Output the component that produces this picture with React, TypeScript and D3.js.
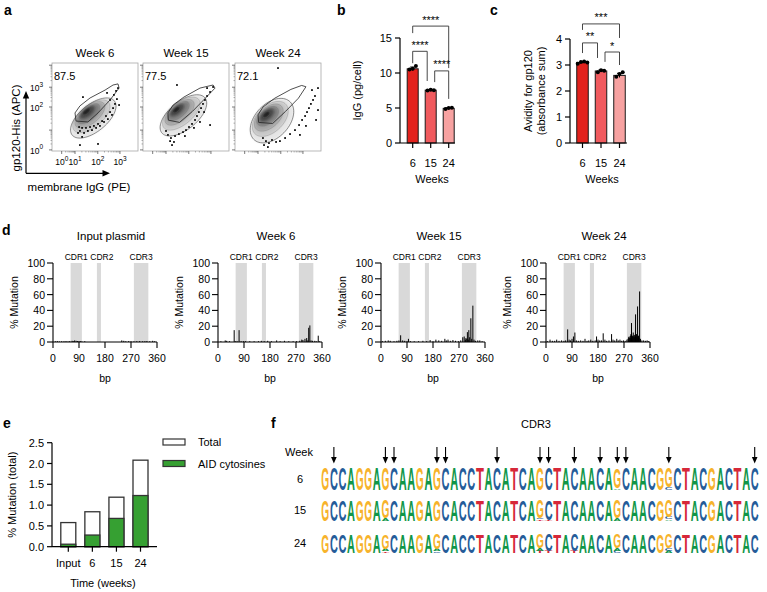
import React from "react";
import * as d3 from "d3";

const FONT = "'Liberation Sans', Arial, Helvetica, sans-serif";

// ---------------- Panel a data ----------------
const flowTitles = ["Week 6", "Week 15", "Week 24"];
const flowGateValues = ["87.5", "77.5", "72.1"];
const flowXDecadePos = [0.45, 1.07, 2.13, 3.16];
const flowXDecadeExp = ["0", "1", "2", "3"];
const flowYDecadePos = [0.05, 0.95, 2.0, 2.9, 3.9];
const flowYDecadeExp = ["0", "1", "2", "3", "4"];
const flowYLabelled = [true, false, true, true, false];
const contourShades = ["#e6e6e6", "#c8c8c8", "#a5a5a5", "#7c7c7c", "#4e4e4e", "#222222"];
// [cx, cy, rx, ry, angle] in display units
const flowContours6 = [
  [1.92, 1.5, 1.25, 0.62, 38], [1.83, 1.58, 1.02, 0.5, 38], [1.76, 1.65, 0.82, 0.4, 38],
  [1.7, 1.7, 0.62, 0.3, 38], [1.64, 1.76, 0.42, 0.21, 38], [1.6, 1.8, 0.22, 0.12, 38],
];
const flowContours15 = [
  [1.88, 1.62, 1.28, 0.64, 38], [1.78, 1.7, 1.03, 0.5, 38], [1.7, 1.76, 0.8, 0.39, 38],
  [1.64, 1.82, 0.6, 0.29, 38], [1.58, 1.86, 0.4, 0.2, 38], [1.55, 1.88, 0.2, 0.11, 38],
];
const flowContours24 = [
  [1.72, 1.38, 1.2, 0.78, 45], [1.64, 1.46, 0.98, 0.6, 42], [1.57, 1.52, 0.78, 0.46, 40],
  [1.52, 1.58, 0.58, 0.33, 38], [1.48, 1.63, 0.4, 0.22, 38], [1.46, 1.66, 0.2, 0.11, 38],
];
const flowGate6 = [[1.07, 1.73], [1.3, 2.05], [1.77, 2.41], [2.47, 2.77], [2.84, 3.0], [3.07, 3.05], [3.12, 2.86], [2.7, 2.32], [2.14, 1.73], [1.67, 1.32], [1.12, 1.36]];
const flowGate15 = [[1.16, 1.73], [1.4, 2.09], [1.9, 2.45], [2.65, 2.86], [3.26, 3.0], [3.35, 2.86], [2.9, 2.4], [2.3, 1.8], [1.7, 1.3], [1.18, 1.4]];
const flowGate24 = [[1.07, 1.64], [1.3, 2.0], [1.85, 2.4], [2.6, 2.8], [3.1, 2.98], [3.3, 2.92], [2.95, 2.4], [2.35, 1.8], [1.75, 1.25], [1.1, 1.3]];
const flowDots6 = [
  [3.07, 2.86], [2.88, 2.55], [2.7, 2.32], [3.02, 2.36], [2.93, 2.14], [2.84, 1.95], [2.7, 1.77], [2.51, 1.59],
  [2.33, 1.36], [2.14, 1.23], [1.95, 1.14], [1.77, 1.09], [1.58, 1.05], [1.4, 1.05], [1.26, 1.09], [1.3, 0.91],
  [1.49, 0.82], [1.67, 0.91], [1.86, 0.95], [2.05, 1.05], [2.23, 1.14], [2.42, 1.32], [2.6, 1.45], [2.79, 1.64],
  [1.4, 0.64], [1.3, 0.27], [2.14, 0.32], [1.44, 2.45], [2.56, 2.64], [3.12, 2.09], [1.21, 0.82], [2.98, 2.73],
];
const flowDots15 = [
  [1.16, 0.73], [1.3, 0.59], [1.49, 0.68], [1.67, 0.77], [1.86, 0.86], [2.0, 0.95], [2.14, 1.09], [2.28, 1.23],
  [2.42, 1.41], [2.51, 1.59], [2.6, 1.77], [2.7, 1.95], [2.79, 2.14], [2.88, 2.32], [2.98, 2.5], [3.12, 2.68],
  [3.26, 2.91], [1.26, 0.45], [1.44, 0.41], [1.35, 0.27], [1.58, 3.0], [3.12, 1.18], [2.65, 1.32], [1.95, 0.68],
  [1.07, 0.91], [2.37, 1.05], [2.84, 1.77], [2.98, 2.86],
];
const flowDots24 = [
  [2.0, 3.77], [1.3, 0.59], [1.44, 0.45], [1.58, 0.36], [1.72, 0.5], [1.91, 0.41], [2.09, 0.45], [1.35, 0.27],
  [1.53, 0.18], [2.33, 0.59], [2.56, 0.77], [2.79, 0.95], [2.98, 1.18], [3.12, 1.41], [3.26, 1.59], [3.35, 1.77],
  [3.44, 1.95], [3.53, 2.14], [3.63, 2.32], [3.72, 2.5], [3.58, 2.77], [3.86, 1.86], [3.77, 1.41], [3.3, 1.14],
  [3.02, 0.73], [3.86, 2.86],
];
const flowContours = [flowContours6, flowContours15, flowContours24];
const flowGates = [flowGate6, flowGate15, flowGate24];
const flowDots = [flowDots6, flowDots15, flowDots24];

// ---------------- Panel b data ----------------
const weekCats = ["6", "15", "24"];
const igMean = [10.6, 7.55, 4.95];
const igSD = [0.25, 0.06, 0.1];
const igPoints = [[10.5, 10.6, 11.0], [7.5, 7.6, 7.55], [4.85, 5.0, 5.05]];
const igTicks = [0, 5, 10, 15];
const igBrackets = [
  { a: 0, b: 2, y: 16.7, la: 15.7, lb: 10.7, text: "****" },
  { a: 0, b: 1, y: 13.1, la: 11.4, lb: 8.86, text: "****" },
  { a: 1, b: 2, y: 10.3, la: 8.7, lb: 6.3, text: "****" },
];
// ---------------- Panel c data ----------------
const avMean = [3.1, 2.77, 2.6];
const avSD = [0.03, 0.04, 0.08];
const avPoints = [[3.05, 3.12, 3.13, 3.1], [2.72, 2.8, 2.78], [2.55, 2.65, 2.72]];
const avTicks = [0, 1, 2, 3, 4];
const avBrackets = [
  { a: 0, b: 2, y: 4.58, la: 4.35, lb: 4.04, text: "***" },
  { a: 0, b: 1, y: 3.85, la: 3.46, lb: 3.27, text: "**" },
  { a: 1, b: 2, y: 3.5, la: 3.12, lb: 3.0, text: "*" },
];
const barColors = ["#e3221d", "#f05a5e", "#f7a2a1"];

// ---------------- Panel d data ----------------
const mutTitles = ["Input plasmid", "Week 6", "Week 15", "Week 24"];
const cdrNames = ["CDR1", "CDR2", "CDR3"];
const cdrStart = [61, 152, 280];
const cdrEnd = [100, 166, 330];
const bpTicks = [0, 90, 180, 270, 360];
const pctTicks = [0, 20, 40, 60, 80, 100];
const mutInput = [[8, 1], [15, 1.2], [22, 0.8], [30, 1], [38, 1], [45, 1.2], [52, 0.8], [58, 1.2], [66, 1.5], [70, 1.2], [75, 2], [80, 1.5], [85, 1.2], [90, 1.2], [95, 1], [100, 0.8], [110, 1], [238, 2], [245, 1.5], [252, 1], [262, 1.2], [270, 1], [280, 0.8], [290, 1], [300, 1.2], [310, 0.8], [318, 1], [325, 1.2], [335, 1], [345, 1.5], [352, 1]];
const mutW6 = [[10, 1], [25, 2], [30, 1.5], [40, 1], [56, 15], [60, 1], [66, 1], [73, 15], [80, 1], [88, 1], [95, 1], [110, 1], [125, 1], [140, 1], [150, 1.5], [160, 1], [172, 1.5], [185, 1], [203, 2], [215, 1], [230, 1.5], [245, 1], [260, 1], [272, 1], [283, 1.5], [290, 3], [294, 2.5], [301, 4], [307, 5], [311, 2], [314, 18], [318, 21], [322, 2], [327, 1.5], [335, 1.5], [340, 1], [347, 8], [352, 1]];
const mutW15 = [[5, 1], [15, 1.5], [25, 2], [32, 1.5], [45, 1], [55, 1.5], [62, 2], [68, 8.5], [75, 2], [82, 1.5], [90, 1], [95, 4], [102, 1], [115, 1], [130, 1], [145, 1.5], [158, 1], [170, 2.5], [180, 1], [190, 3], [200, 2], [210, 1.5], [221, 4], [226, 2], [232, 3], [240, 1.5], [249, 2.5], [258, 1.5], [268, 1], [276, 2], [283, 6], [288, 7], [292, 3], [294, 5], [297, 4], [299, 12.5], [302, 3], [304, 15], [307, 6], [311, 30], [314, 4], [318, 46], [322, 3], [327, 1.5], [335, 2], [342, 2], [350, 1]];
const mutW24 = [[5, 1], [14, 3], [22, 1.5], [30, 1.5], [37, 3], [45, 1.5], [54, 2], [62, 1.5], [68, 2], [75, 16], [80, 3], [85, 2], [90, 4], [95, 7], [100, 12], [105, 2], [112, 1.5], [120, 2], [128, 1.5], [135, 4], [142, 1.5], [148, 2], [155, 3], [162, 1.5], [170, 2], [175, 7], [180, 3], [186, 2], [192, 2], [198, 11], [204, 3], [210, 1.5], [218, 2], [227, 10], [232, 3], [238, 2], [245, 4], [250, 2], [256, 3], [262, 1.5], [268, 2], [274, 1.5], [280, 3], [284, 4], [286, 6], [288, 7], [290, 5], [291, 5], [293, 8], [294, 10], [296, 24], [298, 7], [299, 8], [301, 6], [302, 12], [304, 8], [305, 6], [307, 9], [308, 7], [310, 35], [312, 6], [313, 10], [315, 8], [317, 45], [319, 6], [320, 8], [322, 5], [324, 64], [327, 4], [332, 2], [338, 2], [344, 1.5], [350, 2], [355, 1]];
const mutSeries = [mutInput, mutW6, mutW15, mutW24];

// ---------------- Panel e data ----------------
const eCats = ["Input", "6", "15", "24"];
const eTotal = [0.58, 0.84, 1.19, 2.08];
const eAID = [0.06, 0.28, 0.68, 1.23];
const eTicks = [0, 0.5, 1.0, 1.5, 2.0, 2.5];
const eLegend = ["Total", "AID cytosines"];

// ---------------- Panel f data ----------------
const cdr3Seq = "GCCAGGAGCAAGAGCACCTACATCAGCTACAACAGCAACGGCTACGACTAC";
const arrowIdx = [1, 7, 8, 13, 14, 20, 25, 26, 29, 32, 34, 35, 40, 50];
const logoWeeks = ["6", "15", "24"];
// stacks listed bottom -> top: [letter, fraction of column height]
const logoVar6 = [
  { i: 34, stack: [["A", 0.08], ["G", 0.92]] },
  { i: 40, stack: [["C", 0.1], ["G", 0.9]] },
];
const logoVar15 = [
  { i: 7, stack: [["A", 0.12], ["G", 0.88]] },
  { i: 25, stack: [["T", 0.08], ["C", 0.06], ["G", 0.86]] },
  { i: 26, stack: [["T", 0.07], ["C", 0.93]] },
  { i: 34, stack: [["A", 0.14], ["G", 0.86]] },
  { i: 40, stack: [["A", 0.08], ["C", 0.12], ["G", 0.8]] },
];
const logoVar24 = [
  { i: 7, stack: [["T", 0.08], ["A", 0.14], ["G", 0.78]] },
  { i: 13, stack: [["C", 0.08], ["A", 0.12], ["G", 0.8]] },
  { i: 25, stack: [["T", 0.12], ["A", 0.12], ["G", 0.76]] },
  { i: 26, stack: [["T", 0.12], ["C", 0.88]] },
  { i: 29, stack: [["T", 0.1], ["C", 0.9]] },
  { i: 34, stack: [["C", 0.1], ["A", 0.15], ["G", 0.75]] },
  { i: 40, stack: [["A", 0.12], ["C", 0.15], ["G", 0.73]] },
];
const logoVariants = [logoVar6, logoVar15, logoVar24];
const baseColors: Record<string, string> = { A: "#109648", C: "#255C99", G: "#F7B32B", T: "#D62839" };

// ============================================================
function PanelLabel({ x, y, t }: { x: number; y: number; t: string }) {
  return <text x={x} y={y} fontSize={14} fontWeight="bold">{t}</text>;
}

function ellipsePath(e: number[], xs: any, ys: any) {
  const [cx, cy, rx, ry, ang] = e;
  const a = (ang * Math.PI) / 180;
  const pts = d3.range(72).map((k) => {
    const t = (k / 72) * 2 * Math.PI;
    const ux = cx + rx * Math.cos(t) * Math.cos(a) - ry * Math.sin(t) * Math.sin(a);
    const uy = cy + rx * Math.cos(t) * Math.sin(a) + ry * Math.sin(t) * Math.cos(a);
    return [xs(ux), ys(uy)] as [number, number];
  });
  return d3.line().curve(d3.curveCardinalClosed)(pts) as string;
}

function minorPositions(major: number[]) {
  const out: number[] = [];
  for (let k = 0; k < major.length - 1; k++) {
    for (let m = 2; m <= 9; m++) out.push(major[k] + Math.log10(m) * (major[k + 1] - major[k]));
  }
  return out;
}

function PanelA() {
  const boxX = [52, 143, 235];
  const bw = 86, top = 63, bottom = 151;
  const xMinor = minorPositions(flowXDecadePos);
  const yMinor = minorPositions(flowYDecadePos);
  return (
    <g>
      <PanelLabel x={4} y={15} t="a" />
      <defs>
        <filter id="soft" x="-10%" y="-10%" width="120%" height="120%">
          <feGaussianBlur stdDeviation="0.9" />
        </filter>
      </defs>
      {flowTitles.map((t, i) => {
        const xs = d3.scaleLinear().domain([0, 4]).range([boxX[i], boxX[i] + bw]);
        const ys = d3.scaleLinear().domain([0, 4]).range([bottom, top]);
        const gateLine = d3.line().curve(d3.curveLinearClosed)(flowGates[i].map((p) => [xs(p[0]), ys(p[1])] as [number, number])) as string;
        return (
          <g key={t}>
            <text x={boxX[i] + bw / 2} y={57} fontSize={11.5} textAnchor="middle">{t}</text>
            <clipPath id={"clipA" + i}>
              <rect x={boxX[i]} y={top} width={bw} height={bottom - top} />
            </clipPath>
            <g clipPath={`url(#clipA${i})`}>
              <g filter="url(#soft)">
                {flowContours[i].map((e, k) => (
                  <path key={k} d={ellipsePath(e, xs, ys)} fill={contourShades[k]} />
                ))}
              </g>
              {flowContours[i].map((e, k) => (
                <path key={"l" + k} d={ellipsePath(e, xs, ys)} fill="none" stroke={k === 0 ? "#444" : "#666"} strokeWidth={k === 0 ? 0.6 : 0.3} />
              ))}
              {flowDots[i].map((p, k) => (
                <rect key={k} x={xs(p[0]) - 0.9} y={ys(p[1]) - 0.9} width={1.8} height={1.8} fill="#111" />
              ))}
              <path d={gateLine} fill="none" stroke="#222" strokeWidth={0.8} />
            </g>
            <rect x={boxX[i]} y={top} width={bw} height={bottom - top} fill="none" stroke="#a8a8a8" strokeWidth={0.8} />
            {flowYDecadePos.map((p, k) => (
              <line key={"ym" + k} x1={boxX[i] - 3} x2={boxX[i]} y1={ys(p)} y2={ys(p)} stroke="#444" strokeWidth={0.7} />
            ))}
            {yMinor.map((p, k) => (
              <line key={"yn" + k} x1={boxX[i] - 1.5} x2={boxX[i]} y1={ys(p)} y2={ys(p)} stroke="#666" strokeWidth={0.5} />
            ))}
            {flowXDecadePos.map((p, k) => (
              <line key={"xm" + k} x1={xs(p)} x2={xs(p)} y1={bottom} y2={bottom + 3} stroke="#444" strokeWidth={0.7} />
            ))}
            {xMinor.map((p, k) => (
              <line key={"xn" + k} x1={xs(p)} x2={xs(p)} y1={bottom} y2={bottom + 1.5} stroke="#666" strokeWidth={0.5} />
            ))}
            <text x={boxX[i] + 2} y={top + 17} fontSize={11}>{flowGateValues[i]}</text>
            {i === 0 && flowYDecadePos.map((p, k) =>
              flowYLabelled[k] ? (
                <text key={"yl" + k} x={boxX[i] - 9} y={ys(p) + 4} fontSize={8.5} textAnchor="end">10<tspan dy={-4.5} fontSize={6.5}>{flowYDecadeExp[k]}</tspan></text>
              ) : null
            )}
            {i === 0 && flowXDecadePos.map((p, k) => (
              <text key={"xl" + k} x={xs(p) - 6.5} y={165} fontSize={8.5}>10<tspan dy={-4.5} fontSize={6.5}>{flowXDecadeExp[k]}</tspan></text>
            ))}
          </g>
        );
      })}
      <line x1={26} y1={173.3} x2={26} y2={97} stroke="#000" strokeWidth={1.2} />
      <path d="M26,91 L22.8,98.5 L29.2,98.5 Z" fill="#000" />
      <line x1={26} y1={173.3} x2={104} y2={173.3} stroke="#000" strokeWidth={1.2} />
      <path d="M110,173.3 L102.5,170.1 L102.5,176.5 Z" fill="#000" />
      <text transform="translate(20,128) rotate(-90)" fontSize={11.5} textAnchor="middle">gp120-His (APC)</text>
      <text x={79} y={191} fontSize={11.5} textAnchor="middle">membrane IgG (PE)</text>
    </g>
  );
}

function BarPanel(props: {
  label: string; labelX: number; axisX: number; axisEnd: number; centers: [number, number];
  yDomain: [number, number]; yRange: [number, number]; ticks: number[];
  means: number[]; sds: number[]; points: number[][]; brackets: any[]; barW: number;
  yLabel: string[]; yLabelX: number[]; xLabelX: number;
}) {
  const { axisX, axisEnd, barW } = props;
  const ys = d3.scaleLinear().domain(props.yDomain).range(props.yRange);
  const xs = d3.scalePoint<string>().domain(weekCats).range(props.centers);
  const y0 = ys(0);
  const yMid = (props.yRange[0] + props.yRange[1]) / 2;
  return (
    <g>
      <PanelLabel x={props.labelX} y={15} t={props.label} />
      {weekCats.map((c, i) => {
        const cx = xs(c)!;
        return (
          <g key={c}>
            <rect x={cx - barW / 2} y={ys(props.means[i])} width={barW} height={y0 - ys(props.means[i])} fill={barColors[i]} stroke="#1a1a1a" strokeWidth={1} />
            <line x1={cx} x2={cx} y1={ys(props.means[i] - props.sds[i])} y2={ys(props.means[i] + props.sds[i])} stroke="#000" strokeWidth={1} />
            <line x1={cx - 2.5} x2={cx + 2.5} y1={ys(props.means[i] + props.sds[i])} y2={ys(props.means[i] + props.sds[i])} stroke="#000" strokeWidth={1} />
            {props.points[i].map((v, j) => (
              <circle key={j} cx={cx + (j - (props.points[i].length - 1) / 2) * 3.2} cy={ys(v)} r={2} fill="#000" />
            ))}
            <line x1={cx} x2={cx} y1={y0} y2={y0 + 5} stroke="#000" strokeWidth={1.2} />
            <text x={cx} y={y0 + 24} fontSize={11} textAnchor="middle">{c}</text>
          </g>
        );
      })}
      <line x1={axisX} x2={axisX} y1={ys(props.yDomain[1])} y2={y0} stroke="#000" strokeWidth={1.2} />
      <line x1={axisX} x2={axisEnd} y1={y0} y2={y0} stroke="#000" strokeWidth={1.2} />
      {props.ticks.map((t) => (
        <g key={t}>
          <line x1={axisX - 5} x2={axisX} y1={ys(t)} y2={ys(t)} stroke="#000" strokeWidth={1.2} />
          <text x={axisX - 8} y={ys(t) + 4} fontSize={11} textAnchor="end">{t}</text>
        </g>
      ))}
      {props.brackets.map((b, k) => {
        const adj = b.b - b.a === 1;
        const xa = xs(weekCats[b.a])! + (adj && b.a === 1 ? 4 : 0);
        const xb = xs(weekCats[b.b])! - (adj && b.b === 1 ? 3.5 : 0);
        const yy = ys(b.y);
        return (
          <g key={k}>
            <path d={`M${xa},${ys(b.la)} L${xa},${yy} L${xb},${yy} L${xb},${ys(b.lb)}`} fill="none" stroke="#333" strokeWidth={0.9} />
            <text x={(xa + xb) / 2} y={yy - 2.5} fontSize={11} textAnchor="middle">{b.text}</text>
          </g>
        );
      })}
      {props.yLabel.map((l, k) => (
        <text key={k} transform={`translate(${props.yLabelX[k]},${yMid}) rotate(-90)`} fontSize={11} textAnchor="middle">{l}</text>
      ))}
      <text x={props.xLabelX} y={183} fontSize={11} textAnchor="middle">Weeks</text>
    </g>
  );
}

function PanelD() {
  const axes = [53, 218, 381, 546];
  const pw = 104;
  const ys = d3.scaleLinear().domain([0, 100]).range([342, 263]);
  return (
    <g>
      <PanelLabel x={2} y={235} t="d" />
      {mutTitles.map((t, i) => {
        const xs = d3.scaleLinear().domain([0, 360]).range([axes[i], axes[i] + pw]);
        return (
          <g key={t}>
            <text x={axes[i] + pw / 2 + 6} y={240} fontSize={11.5} textAnchor="middle">{t}</text>
            {cdrNames.map((c, k) => (
              <g key={c}>
                <rect x={xs(cdrStart[k])} y={ys(100)} width={xs(cdrEnd[k]) - xs(cdrStart[k])} height={ys(0) - ys(100)} fill="#d9d9d9" />
                <text x={(xs(cdrStart[k]) + xs(cdrEnd[k])) / 2 + (k === 1 ? 3 : 0)} y={260} fontSize={8.5} textAnchor="middle">{c}</text>
              </g>
            ))}
            {mutSeries[i].map((m, k) => (
              <line key={k} x1={xs(m[0])} x2={xs(m[0])} y1={ys(0)} y2={ys(m[1])} stroke="#000" strokeWidth={1} />
            ))}
            <line x1={axes[i]} x2={axes[i]} y1={ys(100)} y2={ys(0)} stroke="#000" strokeWidth={1.1} />
            <line x1={axes[i]} x2={axes[i] + pw} y1={ys(0)} y2={ys(0)} stroke="#000" strokeWidth={1.1} />
            {pctTicks.map((p) => (
              <g key={p}>
                <line x1={axes[i] - 6} x2={axes[i]} y1={ys(p)} y2={ys(p)} stroke="#000" strokeWidth={1.1} />
                <text x={axes[i] - 8} y={ys(p) + 4} fontSize={10.5} textAnchor="end">{p}</text>
              </g>
            ))}
            {bpTicks.map((b) => (
              <g key={b}>
                <line x1={xs(b)} x2={xs(b)} y1={ys(0)} y2={ys(0) + 6} stroke="#000" strokeWidth={1.1} />
                <text x={xs(b)} y={362} fontSize={10.5} textAnchor="middle">{b}</text>
              </g>
            ))}
            <text x={axes[i] + pw / 2} y={382} fontSize={10.5} textAnchor="middle">bp</text>
            <text transform={`translate(${axes[i] - 35.5},${(ys(0) + ys(100)) / 2}) rotate(-90)`} fontSize={10.5} textAnchor="middle">% Mutation</text>
          </g>
        );
      })}
    </g>
  );
}

function PanelE() {
  const ys = d3.scaleLinear().domain([0, 2.5]).range([546.7, 442.7]);
  const xs = d3.scalePoint<string>().domain(eCats).range([68.3, 140.5]);
  const bw = 15;
  const green = "#36a032";
  return (
    <g>
      <PanelLabel x={3} y={428} t="e" />
      {eCats.map((c, i) => {
        const cx = xs(c)!;
        return (
          <g key={c}>
            <rect x={cx - bw / 2} y={ys(eTotal[i])} width={bw} height={ys(0) - ys(eTotal[i])} fill="#fff" stroke="#333" strokeWidth={1.3} />
            <rect x={cx - bw / 2} y={ys(eAID[i])} width={bw} height={ys(0) - ys(eAID[i])} fill={green} stroke="#333" strokeWidth={1.3} />
            <line x1={cx} x2={cx} y1={ys(0)} y2={ys(0) + 5} stroke="#000" strokeWidth={1.2} />
            <text x={cx} y={566.7} fontSize={11} textAnchor="middle">{c}</text>
          </g>
        );
      })}
      <line x1={52} x2={52} y1={ys(2.5)} y2={ys(0)} stroke="#000" strokeWidth={1.2} />
      <line x1={52} x2={157} y1={ys(0)} y2={ys(0)} stroke="#000" strokeWidth={1.2} />
      {eTicks.map((t) => (
        <g key={t}>
          <line x1={47} x2={52} y1={ys(t)} y2={ys(t)} stroke="#000" strokeWidth={1.2} />
          <text x={44} y={ys(t) + 4} fontSize={11} textAnchor="end">{t.toFixed(1)}</text>
        </g>
      ))}
      <text x={103} y={586.5} fontSize={11} textAnchor="middle">Time (weeks)</text>
      <text transform={`translate(16,${(ys(0) + ys(2.5)) / 2}) rotate(-90)`} fontSize={11} textAnchor="middle">% Mutation (total)</text>
      {eLegend.map((l, k) => (
        <g key={l}>
          <rect x={163} y={439 + k * 21.5} width={22} height={6} fill={k === 0 ? "#fff" : green} stroke="#333" strokeWidth={1.2} />
          <text x={198} y={446 + k * 21.5} fontSize={11}>{l}</text>
        </g>
      ))}
    </g>
  );
}

function Letter({ ch, x, w, base, h }: { ch: string; x: number; w: number; base: number; h: number }) {
  if (h < 0.5) return null;
  return (
    <text x={x} y={base} fontSize={h / 0.716} textLength={w} lengthAdjust="spacingAndGlyphs" fill={baseColors[ch]} fontWeight="bold">{ch}</text>
  );
}

function PanelF() {
  const idx = d3.range(cdr3Seq.length);
  const xs = d3.scaleBand<number>().domain(idx).range([321, 759]);
  const colW = xs.bandwidth();
  const rowBase = [489.5, 521, 553];
  const rowH = [22, 21, 19];
  const labelY = [483, 513.5, 547];
  return (
    <g>
      <PanelLabel x={271} y={428} t="f" />
      <text x={536} y={428} fontSize={11} textAnchor="middle">CDR3</text>
      <text x={299} y={456} fontSize={11} textAnchor="middle">Week</text>
      {arrowIdx.map((i) => {
        const cx = xs(i)! + colW / 2;
        return (
          <g key={i}>
            <line x1={cx} x2={cx} y1={447} y2={458} stroke="#000" strokeWidth={1.1} />
            <path d={`M${cx},${463.5} L${cx - 2.8},${457} L${cx + 2.8},${457} Z`} fill="#000" />
          </g>
        );
      })}
      {logoWeeks.map((wk, r) => {
        const vars = new Map(logoVariants[r].map((v) => [v.i, v.stack]));
        return (
          <g key={wk}>
            <text x={300} y={labelY[r]} fontSize={11} textAnchor="middle">{wk}</text>
            {idx.map((i) => {
              const x0 = xs(i)! + colW * 0.04;
              const w = colW * 0.92;
              const stack = (vars.get(i) as any[]) || [[cdr3Seq[i], 1]];
              let base = rowBase[r];
              return (
                <g key={i}>
                  {stack.map(([ch, f]: [string, number], k: number) => {
                    const h = f * rowH[r];
                    const el = <Letter key={k} ch={ch} x={x0} w={w} base={base} h={h} />;
                    base -= h;
                    return el;
                  })}
                </g>
              );
            })}
          </g>
        );
      })}
    </g>
  );
}

export default function App() {
  return (
    <div style={{ position: "absolute", left: 0, top: 0 }}>
      <svg width={767} height={592} style={{ display: "block", background: "#fff" }} fontFamily={FONT}>
        <rect width={767} height={592} fill="#fff" />
        <PanelA />
        <BarPanel label="b" labelX={337} axisX={400} axisEnd={455} centers={[412.7, 448.7]} yDomain={[0, 15]} yRange={[143, 38]} ticks={igTicks}
          means={igMean} sds={igSD} points={igPoints} brackets={igBrackets} barW={11} yLabel={["IgG (pg/cell)"]} yLabelX={[361]} xLabelX={432} />
        <BarPanel label="c" labelX={490} axisX={570} axisEnd={627} centers={[582.5, 619.5]} yDomain={[0, 4]} yRange={[143, 39]} ticks={avTicks}
          means={avMean} sds={avSD} points={avPoints} brackets={avBrackets} barW={11.5} yLabel={["Avidity for gp120", "(absorbance sum)"]} yLabelX={[532, 545]} xLabelX={602} />
        <PanelD />
        <PanelE />
        <PanelF />
      </svg>
    </div>
  );
}
